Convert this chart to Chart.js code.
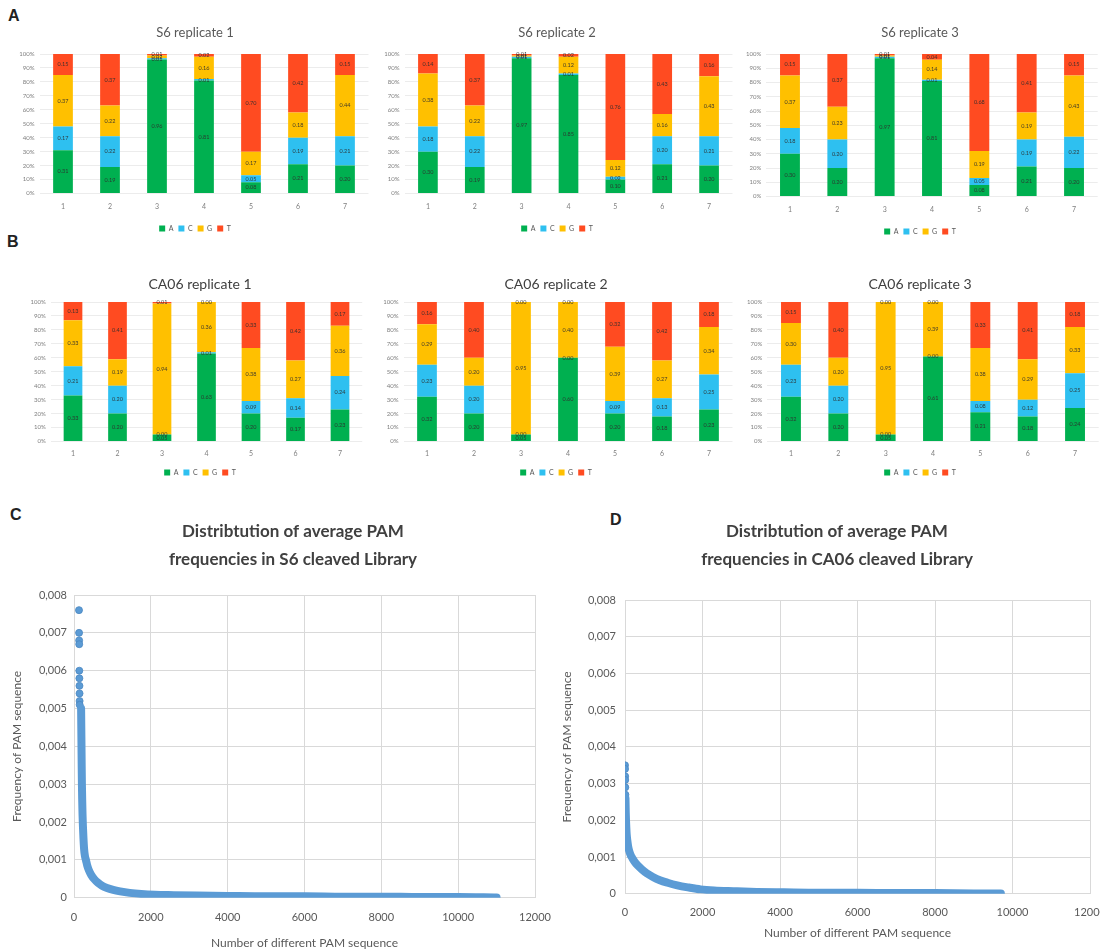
<!DOCTYPE html>
<html><head><meta charset="utf-8">
<script src="https://cdn.jsdelivr.net/npm/chart.js@4.4.1/dist/chart.umd.min.js"></script>
<style>
html,body{margin:0;padding:0;background:#fff;width:1100px;height:950px;overflow:hidden;position:relative;}
canvas{position:absolute;}
.letter{position:absolute;font:bold 16px "Liberation Sans",Arial,sans-serif;color:#222;line-height:16px;}
</style></head><body>
<div class="letter" style="left:8px;top:8px">A</div>
<div class="letter" style="left:7px;top:234px">B</div>
<div class="letter" style="left:10px;top:507px">C</div>
<div class="letter" style="left:610px;top:512px">D</div>

<canvas id="a1" width="390" height="226" style="left:0px;top:16px"></canvas>
<canvas id="a2" width="374" height="226" style="left:370px;top:16px"></canvas>
<canvas id="a3" width="360" height="229" style="left:740px;top:16px"></canvas>
<canvas id="b1" width="400" height="224" style="left:0px;top:262px"></canvas>
<canvas id="b2" width="372" height="224" style="left:370px;top:262px"></canvas>
<canvas id="b3" width="360" height="224" style="left:740px;top:262px"></canvas>
<canvas id="c1" width="586" height="444" style="left:0px;top:508px"></canvas>
<canvas id="d1" width="564" height="434" style="left:555px;top:508px"></canvas>

<script>
// ---------- categories / labels ----------
const positions = ['1','2','3','4','5','6','7'];
const nucleotides = ['A','C','G','T'];
const pctTicks = ['0%','10%','20%','30%','40%','50%','60%','70%','80%','90%','100%'];
const freqTicks = ['0','0,001','0,002','0,003','0,004','0,005','0,006','0,007','0,008'];
const countTicks = ['0','2000','4000','6000','8000','10000','12000'];

// ---------- panel A: S6 (A, C, G, T per position) ----------
const s6r1A = [0.31, 0.19, 0.96, 0.81, 0.08, 0.21, 0.20];
const s6r1C = [0.17, 0.22, 0.01, 0.01, 0.05, 0.19, 0.21];
const s6r1G = [0.37, 0.22, 0.02, 0.16, 0.17, 0.18, 0.44];
const s6r1T = [0.15, 0.37, 0.01, 0.02, 0.70, 0.42, 0.15];

const s6r2A = [0.30, 0.19, 0.97, 0.85, 0.10, 0.21, 0.20];
const s6r2C = [0.18, 0.22, 0.01, 0.01, 0.02, 0.20, 0.21];
const s6r2G = [0.38, 0.22, 0.01, 0.12, 0.12, 0.16, 0.43];
const s6r2T = [0.14, 0.37, 0.01, 0.02, 0.76, 0.43, 0.16];

const s6r3A = [0.30, 0.20, 0.97, 0.81, 0.08, 0.21, 0.20];
const s6r3C = [0.18, 0.20, 0.01, 0.01, 0.05, 0.19, 0.22];
const s6r3G = [0.37, 0.23, 0.01, 0.14, 0.19, 0.19, 0.43];
const s6r3T = [0.15, 0.37, 0.01, 0.04, 0.68, 0.41, 0.15];

// ---------- panel B: CA06 ----------
const ca1A = [0.33, 0.20, 0.05, 0.63, 0.20, 0.17, 0.23];
const ca1C = [0.21, 0.20, 0.00, 0.01, 0.09, 0.14, 0.24];
const ca1G = [0.33, 0.19, 0.94, 0.36, 0.38, 0.27, 0.36];
const ca1T = [0.13, 0.41, 0.01, 0.00, 0.33, 0.42, 0.17];

const ca2A = [0.32, 0.20, 0.05, 0.60, 0.20, 0.18, 0.23];
const ca2C = [0.23, 0.20, 0.00, 0.00, 0.09, 0.13, 0.25];
const ca2G = [0.29, 0.20, 0.95, 0.40, 0.39, 0.27, 0.34];
const ca2T = [0.16, 0.40, 0.00, 0.00, 0.32, 0.42, 0.18];

const ca3A = [0.32, 0.20, 0.05, 0.61, 0.21, 0.18, 0.24];
const ca3C = [0.23, 0.20, 0.00, 0.00, 0.08, 0.12, 0.25];
const ca3G = [0.30, 0.20, 0.95, 0.39, 0.38, 0.29, 0.33];
const ca3T = [0.15, 0.40, 0.00, 0.00, 0.33, 0.41, 0.18];

// ---------- panel C: S6 cleaved library ----------
const s6TopX = [130, 132, 134, 136, 138, 140, 142, 144, 146, 148];
const s6TopY = [0.0076, 0.0070, 0.0068, 0.0067, 0.0060, 0.0058, 0.0056, 0.0054, 0.0052, 0.0051];
const s6X = [185,190,195,200,206,213,222,232,245,262,285,310,345,390,450,530,620,730,860,1020,1200,1450,1750,2100,2600,3200,4000,5000,6000,7000,8000,9000,10000,11000];
const s6Y = [0.0050,0.0045,0.0040,0.0035,0.0030,0.0026,0.0022,0.0019,0.0016,0.0013,0.0011,0.0010,0.00085,0.00072,0.0006,0.00049,0.0004,0.00032,0.00026,0.00021,0.00017,0.00013,0.0001,0.00008,0.00007,0.00006,0.00005,0.00004,0.00004,0.00003,0.00003,0.00002,0.00002,0.00001];

// ---------- panel D: CA06 cleaved library ----------
const caTopX = [0, 2, 4, 6, 8, 10];
const caTopY = [0.0035, 0.0034, 0.0032, 0.0031, 0.0029, 0.0027];
const caX = [12,16,20,26,34,45,60,80,105,140,190,250,330,430,560,720,900,1100,1350,1650,1950,2300,2800,3400,4100,5000,6000,7000,8000,9000,9700];
const caY = [0.0026,0.0024,0.0022,0.0020,0.0018,0.0016,0.00145,0.0013,0.00118,0.00107,0.00097,0.00087,0.00077,0.00067,0.00056,0.00046,0.00037,0.0003,0.00023,0.00017,0.00012,0.00009,0.00007,0.00005,0.00004,0.00003,0.00003,0.00002,0.00002,0.00001,0.00001];

// ---------- styles ----------
const FONT = 'Lato, "Open Sans", "Liberation Sans", sans-serif';
const nucColors = ['#00b050', '#2ec0f0', '#ffc000', '#ff4b21'];

const segLabels = {
  id: 'segLabels',
  afterDatasetsDraw(chart, args, o) {
    const ctx = chart.ctx;
    ctx.save();
    ctx.font = (o.size || 6) + 'px ' + FONT;
    ctx.fillStyle = 'rgba(45,45,45,0.9)';
    ctx.textAlign = 'center';
    ctx.textBaseline = 'middle';
    chart.data.datasets.forEach((ds, i) => {
      chart.getDatasetMeta(i).data.forEach((el, j) => {
        const v = ds.data[j];
        ctx.fillText(v.toFixed(2), el.x, (el.y + el.base) / 2);
      });
    });
    ctx.restore();
  }
};

// invisible right-hand spacer axis (keeps titles/legends centred like the reference)
function spacer(w) {
  return { axis: 'y', type: 'linear', position: 'right', display: true,
           grid: { display: false, drawTicks: false }, border: { display: false },
           ticks: { display: false }, afterFit: s => { s.width = w; } };
}

function makeBar(id, series, c) {
  new Chart(document.getElementById(id), {
    type: 'bar',
    data: {
      labels: positions,
      datasets: nucleotides.map((n, k) => ({
        label: n, data: series[k], backgroundColor: nucColors[k],
        borderWidth: 0, barPercentage: 0.42, categoryPercentage: 1, yAxisID: 'y'
      }))
    },
    options: {
      responsive: false, animation: false,
      layout: { padding: 0 },
      plugins: {
        title: { display: true, text: c.title, color: c.tc, font: { family: FONT, size: c.ts, weight: 'normal' },
                 padding: { top: c.tpt, bottom: c.tpb } },
        legend: { position: 'bottom', labels: { boxWidth: 6, boxHeight: 6, padding: 5, color: '#595959', font: { family: FONT, size: 7 } } },
        tooltip: { enabled: false },
        segLabels: { size: 5.5 }
      },
      scales: {
        x: { stacked: true, grid: { display: false, drawTicks: false }, border: { display: false },
             ticks: { padding: c.xpad, color: '#7f7f7f', font: { family: FONT, size: 7 } },
             afterFit: s => { s.height = c.hx; } },
        y: { stacked: true, min: 0, max: 1,
             ticks: { stepSize: 0.1, padding: 5, color: '#7f7f7f', font: { family: FONT, size: 6 },
                      callback: v => pctTicks[Math.round(v * 10)] },
             grid: { color: '#ececec', drawTicks: false }, border: { display: false },
             afterFit: s => { s.width = c.yw; } },
        yRight: spacer(c.rw)
      }
    },
    plugins: [segLabels]
  });
}

const aRow = { tc: '#595959', ts: 13, tpt: 9.2, tpb: 13.2, xpad: 8.8, hx: 26.5 };
const bRow = { tc: '#404040', ts: 14, tpt: 13.6, tpb: 9.6, xpad: 7.8, hx: 22.5 };

makeBar('a1', [s6r1A, s6r1C, s6r1G, s6r1T], Object.assign({}, aRow, { title: 'S6 replicate 1', yw: 39.5, rw: 21.5 }));
makeBar('a2', [s6r2A, s6r2C, s6r2G, s6r2T], Object.assign({}, aRow, { title: 'S6 replicate 2', yw: 34.5, rw: 11.5 }));
makeBar('a3', [s6r3A, s6r3C, s6r3G, s6r3T], Object.assign({}, aRow, { title: 'S6 replicate 3', yw: 26.3, rw: 2.3 }));
makeBar('b1', [ca1A, ca1C, ca1G, ca1T], Object.assign({}, bRow, { title: 'CA06 replicate 1', yw: 50.75, rw: 37.75 }));
makeBar('b2', [ca2A, ca2C, ca2G, ca2T], Object.assign({}, bRow, { title: 'CA06 replicate 2', yw: 33.5, rw: 9.5 }));
makeBar('b3', [ca3A, ca3C, ca3G, ca3T], Object.assign({}, bRow, { title: 'CA06 replicate 3', yw: 27.3, rw: 1.3 }));

function makeScatter(id, topX, topY, X, Y, c) {
  new Chart(document.getElementById(id), {
    type: 'scatter',
    data: {
      datasets: [
        { data: X.map((x, i) => ({ x, y: Y[i] })), showLine: true, borderColor: '#5b9bd5', borderWidth: 8,
          pointRadius: 0, borderCapStyle: 'round', borderJoinStyle: 'round', cubicInterpolationMode: 'monotone',
          xAxisID: 'x', yAxisID: 'y' },
        { data: topX.map((x, i) => ({ x, y: topY[i] })), showLine: false, pointRadius: 3.5,
          backgroundColor: '#5b9bd5', borderColor: '#4a86c0', borderWidth: 0.8, xAxisID: 'x', yAxisID: 'y' }
      ]
    },
    options: {
      responsive: false, animation: false,
      layout: { padding: 0 },
      plugins: {
        legend: { display: false }, tooltip: { enabled: false },
        title: { display: true, text: c.title, color: '#404040',
                 font: { family: FONT, size: 17, weight: 'bold', lineHeight: 28 / 17 },
                 padding: { top: 10, bottom: c.tpb } }
      },
      scales: {
        x: { type: 'linear', min: 0, max: 12000,
             ticks: { stepSize: 2000, padding: c.xpad, color: '#595959', font: { family: FONT, size: 11 },
                      callback: v => countTicks[Math.round(v / 2000)] },
             grid: { color: '#d9d9d9', drawTicks: false }, border: { color: '#d9d9d9' },
             title: { display: true, text: 'Number of different PAM sequence', color: '#595959',
                      font: { family: FONT, size: 12 }, padding: { top: 0, bottom: 2 } },
             afterFit: s => { s.height = c.hx; } },
        y: { min: 0, max: 0.008,
             ticks: { stepSize: 0.001, padding: c.ypad, color: '#595959', font: { family: FONT, size: 11 },
                      callback: v => freqTicks[Math.round(v * 1000)] },
             grid: { color: '#d9d9d9', drawTicks: false }, border: { color: '#d9d9d9' },
             title: { display: true, text: 'Frequency of PAM sequence', color: '#595959',
                      font: { family: FONT, size: 12 }, padding: { top: c.ytp, bottom: 0 } },
             afterFit: s => { s.width = c.yw; } },
        yRight: spacer(c.rw)
      }
    }
  });
}

makeScatter('c1', s6TopX, s6TopY, s6X, s6Y,
  { title: ['Distribtution of average PAM', 'frequencies in S6 cleaved Library'], tpb: 21, yw: 74, rw: 51, ypad: 7, ytp: 10.4, xpad: 13.4, hx: 54.2 });
makeScatter('d1', caTopX, caTopY, caX, caY,
  { title: ['Distribtution of average PAM', 'frequencies in CA06 cleaved Library'], tpb: 26, yw: 70, rw: 29, ypad: 9, ytp: 4.8, xpad: 12.4, hx: 48.2 });
</script>
</body></html>
